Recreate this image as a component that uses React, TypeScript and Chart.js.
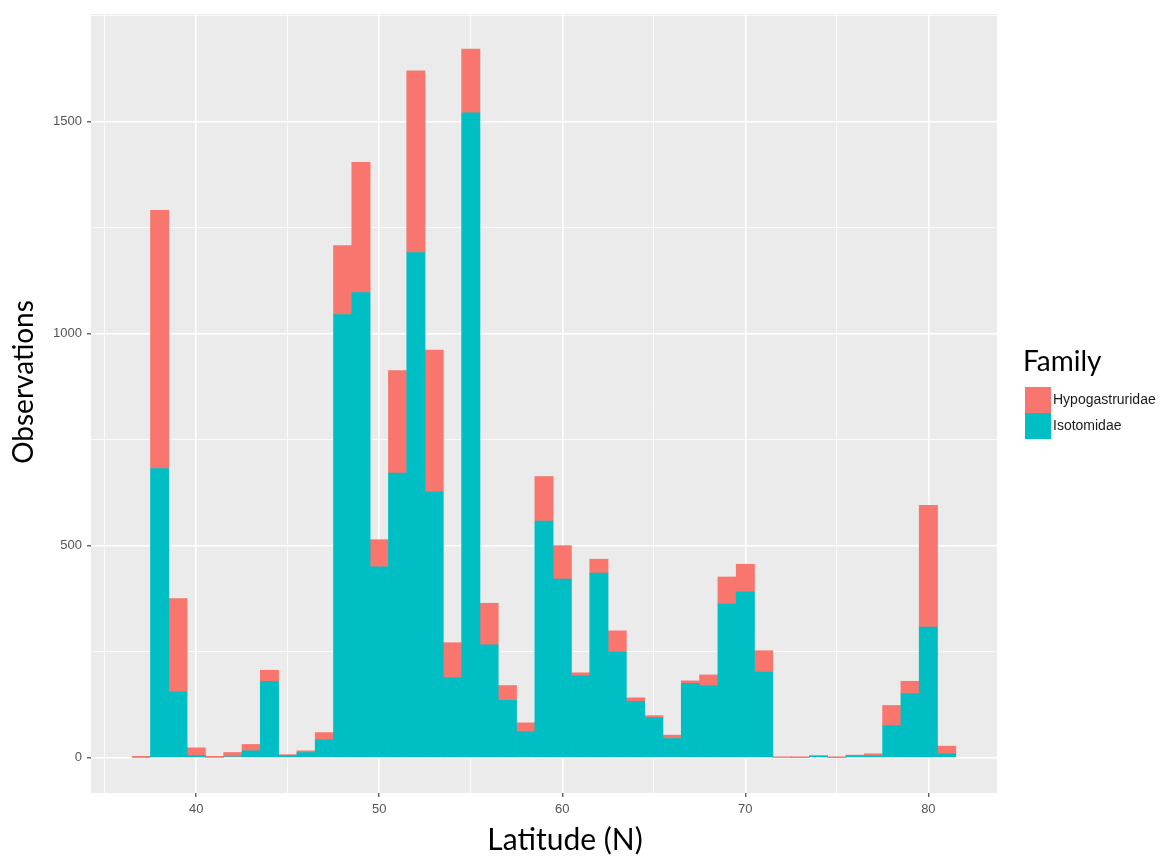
import React, { useEffect, useRef } from "react";
import { Chart, registerables } from "chart.js";

Chart.register(...registerables);

// Latitude bins (1 degree wide, centred on integers)
const latitudes = [37, 38, 39, 40, 41, 42, 43, 44, 45, 46, 47, 48, 49, 50, 51, 52, 53, 54, 55, 56, 57, 58, 59, 60, 61, 62, 63, 64, 65, 66, 67, 68, 69, 70, 71, 72, 73, 74, 75, 76, 77, 78, 79, 80, 81];

// Observations per bin, by family
const isotomidae = [0, 682, 155, 5, 0, 2, 16, 180, 5, 12, 42, 1045, 1097, 450, 671, 1191, 627, 189, 1521, 266, 135, 61, 558, 421, 193, 435, 249, 133, 94, 45, 175, 170, 362, 391, 202, 0, 0, 3, 0, 4, 4, 75, 151, 308, 9];
const hypogastruridae = [3, 609, 220, 18, 3, 10, 15, 26, 2, 4, 17, 163, 307, 64, 242, 429, 334, 82, 150, 98, 35, 21, 105, 79, 7, 33, 50, 8, 5, 8, 6, 25, 64, 65, 50, 2, 1, 2, 1, 2, 5, 48, 29, 287, 18];

const familyNames = ["Hypogastruridae", "Isotomidae"];
const familyColors = ["#F8766D", "#00BFC4"];

const xTitle = "Latitude (N)";
const yTitle = "Observations";
const legendTitle = "Family";

const xStep = 5;
const xLabelEvery = 10;
const yStep = 250;
const yLabelEvery = 500;

const panelBg = {
  id: "panelBg",
  beforeDraw(chart: any) {
    const { ctx, chartArea } = chart;
    ctx.save();
    ctx.fillStyle = "#EBEBEB";
    ctx.fillRect(chartArea.left, chartArea.top, chartArea.right - chartArea.left, chartArea.bottom - chartArea.top);
    ctx.restore();
  },
};

const annotations = {
  id: "annotations",
  afterDraw(chart: any) {
    const ctx = chart.ctx;
    ctx.save();
    ctx.fillStyle = "#000000";
    // Y title
    ctx.font = "28px Lato, 'Open Sans', sans-serif";
    ctx.textAlign = "center";
    ctx.textBaseline = "middle";
    ctx.save();
    ctx.translate(24, 382);
    ctx.rotate(-Math.PI / 2);
    ctx.fillText(yTitle, 0, 0);
    ctx.restore();
    // X title
    ctx.font = "30px Lato, 'Open Sans', sans-serif";
    ctx.fillText(xTitle, 565, 840);
    // Legend
    ctx.textAlign = "left";
    ctx.textBaseline = "alphabetic";
    ctx.font = "28px Lato, 'Open Sans', sans-serif";
    ctx.fillText(legendTitle, 1023, 371);
    const keyX = 1025;
    const keyY = 387;
    const keySize = 26;
    ctx.font = "14px 'Liberation Sans', Arial, sans-serif";
    ctx.textBaseline = "middle";
    familyNames.forEach((name, i) => {
      ctx.fillStyle = familyColors[i];
      ctx.fillRect(keyX, keyY + i * keySize, keySize, keySize);
      ctx.fillStyle = "#1A1A1A";
      ctx.fillText(name, 1053, keyY + i * keySize + keySize / 2);
    });
    ctx.restore();
  },
};

export default function App() {
  const canvasRef = useRef<HTMLCanvasElement | null>(null);

  useEffect(() => {
    if (!canvasRef.current) return;
    const chart = new Chart(canvasRef.current, {
      type: "bar",
      data: {
        datasets: [
          {
            label: familyNames[1],
            data: latitudes.map((x, i) => ({ x, y: isotomidae[i] })),
            backgroundColor: familyColors[1],
            borderWidth: 0,
            barPercentage: 1,
            categoryPercentage: 1,
          },
          {
            label: familyNames[0],
            data: latitudes.map((x, i) => ({ x, y: hypogastruridae[i] })),
            backgroundColor: familyColors[0],
            borderWidth: 0,
            barPercentage: 1,
            categoryPercentage: 1,
          },
        ],
      },
      options: {
        animation: false,
        responsive: false,
        maintainAspectRatio: false,
        layout: { padding: { left: 0, right: 165, top: 14, bottom: 0 } },
        plugins: {
          legend: { display: false },
          tooltip: { enabled: false },
        },
        scales: {
          x: {
            type: "linear",
            stacked: true,
            offset: false,
            min: 34.25,
            max: 83.75,
            border: { display: false },
            grid: {
              offset: false,
              color: "#FFFFFF",
              lineWidth: (c: any) => (c.tick && c.tick.value % xLabelEvery === 0 ? 1.6 : 0.8),
              tickColor: (c: any) => (c.tick && c.tick.value % xLabelEvery === 0 ? "#333333" : "rgba(0,0,0,0)"),
              tickLength: 4,
              tickWidth: 1.1,
            },
            ticks: {
              stepSize: xStep,
              includeBounds: false,
              autoSkip: false,
              maxRotation: 0,
              padding: 5,
              color: "#555555",
              font: { family: "'Liberation Sans', Arial, sans-serif", size: 13 },
              callback: (v: any) => (Number(v) % xLabelEvery === 0 ? String(v) : ""),
            },
            afterFit: (s: any) => {
              s.height = 64;
            },
          },
          y: {
            type: "linear",
            stacked: true,
            min: -83.5,
            max: 1754,
            border: { display: false },
            grid: {
              color: "#FFFFFF",
              lineWidth: (c: any) => (c.tick && c.tick.value % yLabelEvery === 0 ? 1.6 : 0.8),
              tickColor: (c: any) => (c.tick && c.tick.value % yLabelEvery === 0 ? "#333333" : "rgba(0,0,0,0)"),
              tickLength: 4,
              tickWidth: 1.1,
            },
            ticks: {
              stepSize: yStep,
              includeBounds: false,
              autoSkip: false,
              padding: 5,
              color: "#555555",
              font: { family: "'Liberation Sans', Arial, sans-serif", size: 13 },
              callback: (v: any) => (Number(v) % yLabelEvery === 0 ? String(v) : ""),
            },
            afterFit: (s: any) => {
              s.width = 91;
            },
          },
        },
      },
      plugins: [panelBg, annotations],
    } as any);
    return () => chart.destroy();
  }, []);

  return (
    <div style={{ position: "absolute", left: 0, top: 0, width: 1162, height: 857, background: "#FFFFFF" }}>
      <canvas ref={canvasRef} width={1162} height={857} style={{ display: "block" }} />
    </div>
  );
}
